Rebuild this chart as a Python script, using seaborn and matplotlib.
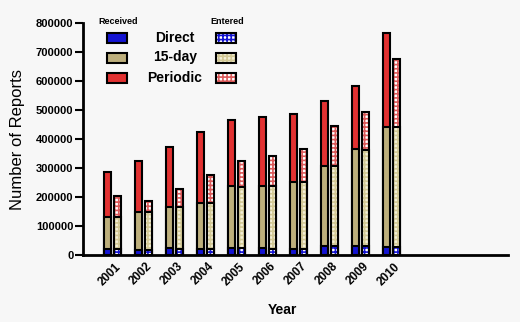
import numpy as np
import pandas as pd
import matplotlib
matplotlib.use('Agg')
import matplotlib.pyplot as plt
import matplotlib.transforms as mtransforms
from matplotlib.patches import Rectangle
from matplotlib.ticker import FuncFormatter
import seaborn as sns

# ---------------- data ----------------
years = ['2001', '2002', '2003', '2004', '2005', '2006', '2007', '2008', '2009', '2010']
recv_direct   = [20000, 18000, 23000, 22000, 25000, 23000, 22000, 32000, 32000, 26000]
recv_15day    = [110000, 129000, 144000, 158000, 213000, 216000, 231000, 276000, 332000, 414000]
recv_periodic = [156000, 177000, 204000, 245000, 228000, 236000, 233000, 223000, 219000, 327000]
ent_direct    = [20000, 18000, 22000, 21000, 24000, 22000, 22000, 30000, 30000, 26000]
ent_15day     = [110000, 129000, 142000, 159000, 212000, 217000, 231000, 278000, 332000, 414000]
ent_periodic  = [74000, 40000, 64000, 95000, 88000, 102000, 112000, 137000, 132000, 237000]
series_labels = ['Direct', '15-day', 'Periodic']
sources = ['Received', 'Entered']
y_ticks = [0, 100000, 200000, 300000, 400000, 500000, 600000, 700000, 800000]

# ---------------- styles ----------------
BG = '#f7f7f7'
BLUE = '#1414d2'
TAN = '#bdaf7c'
RED = '#e23232'
# entered: (face colour, check colour)
ENT_DIRECT = ('#ffffff', BLUE)
ENT_15 = ('#f4f0d8', '#d3c996')
ENT_PER = ('#ffffff', '#dc5a5a')
HATCH = '++++'

sns.set_theme(style='ticks')
plt.rcParams['font.family'] = ['Liberation Sans', 'DejaVu Sans']
plt.rcParams['hatch.linewidth'] = 1.2

W, H = 520, 322
fig = plt.figure(figsize=(W / 100, H / 100), dpi=100, facecolor=BG)
ax = fig.add_axes([83 / W, 67 / H, 425 / W, 232 / H], facecolor=BG)

# long table with stacked (cumulative) heights
rows = []
for src, d, f, p in [('Received', recv_direct, recv_15day, recv_periodic),
                     ('Entered', ent_direct, ent_15day, ent_periodic)]:
    for yr, dv, fv, pv in zip(years, d, f, p):
        rows.append({'Year': yr, 'Source': src,
                     'direct': dv, 'top15': dv + fv, 'total': dv + fv + pv})
df = pd.DataFrame(rows)

layers = [('total', RED, ENT_PER), ('top15', TAN, ENT_15), ('direct', BLUE, ENT_DIRECT)]
LW = 1.5
for col, rc, (ef, eh) in layers:
    n0 = len(ax.patches)
    sns.barplot(data=df, x='Year', y=col, hue='Source', hue_order=sources, order=years,
                palette={'Received': rc, 'Entered': ef}, width=0.64, gap=0.29,
                edgecolor='black', linewidth=LW, errorbar=None, legend=False,
                saturation=1, ax=ax)
    for p in list(ax.patches[n0:]):
        cx = p.get_x() + p.get_width() / 2
        if cx > round(cx):
            p.set_facecolor(ef)
            p.set_edgecolor(eh)
            p.set_hatch(HATCH)
            p.set_linewidth(0)
            ax.add_patch(Rectangle((p.get_x(), p.get_y()), p.get_width(), p.get_height(),
                                   fill=False, edgecolor='black', linewidth=LW))

ax.set_xlim(-0.95, 12.76)
ax.set_ylim(0, 800000)
ax.set_yticks(y_ticks)
ax.yaxis.set_major_formatter(FuncFormatter(lambda v, _: f'{int(v)}'))
ax.set_xlabel('')
ax.set_ylabel('')
for s in ['top', 'right']:
    ax.spines[s].set_visible(False)
for s in ['left', 'bottom']:
    ax.spines[s].set_linewidth(2)
    ax.spines[s].set_color('black')
ax.tick_params(axis='y', direction='out', length=5.5, width=1.5, color='black', pad=1.5,
               labelsize=8, labelcolor='black')
ax.tick_params(axis='x', length=0, pad=4, labelsize=8.5, labelcolor='black')
for t in ax.get_yticklabels():
    t.set_fontweight('bold')
offset = mtransforms.ScaledTranslation(11 / 100, 0, fig.dpi_scale_trans)
for t in ax.get_xticklabels():
    t.set_fontweight('bold')
    t.set_rotation(45)
    t.set_ha('right')
    t.set_va('top')
    t.set_transform(t.get_transform() + offset)

fig.text(18 / W, 1 - 140 / H, 'Number of Reports', rotation=90, ha='center', va='center',
         fontsize=12, color='black')
fig.text(282 / W, 1 - 310 / H, 'Year', ha='center', va='center', fontsize=10,
         fontweight='bold', color='black')

# ---------------- legend ----------------
def fig_rect(cx, cy, w, h, **kw):
    r = Rectangle(((cx - w / 2) / W, 1 - (cy + h / 2) / H), w / W, h / H,
                  transform=fig.transFigure, **kw)
    fig.add_artist(r)

row_y = [38, 57.5, 77.5]
recv_cols = [BLUE, TAN, RED]
ent_cols = [ENT_DIRECT, ENT_15, ENT_PER]
for lab, yy, rc, (ef, eh) in zip(series_labels, row_y, recv_cols, ent_cols):
    fig_rect(117, yy, 20, 10, facecolor=rc, edgecolor='black', linewidth=LW)
    fig_rect(226, yy, 20, 10, facecolor=ef, edgecolor=eh, hatch=HATCH, linewidth=0)
    fig_rect(226, yy, 20, 10, fill=False, edgecolor='black', linewidth=LW)
    fig.text(175 / W, 1 - yy / H, lab, ha='center', va='center', fontsize=10,
             fontweight='bold', color='black')
fig.text(118 / W, 1 - 21 / H, sources[0], ha='center', va='center', fontsize=6.5,
         fontweight='bold', color='black')
fig.text(227 / W, 1 - 22 / H, sources[1], ha='center', va='center', fontsize=6.5,
         fontweight='bold', color='black')

fig.savefig('out.png', dpi=100, facecolor=BG)
